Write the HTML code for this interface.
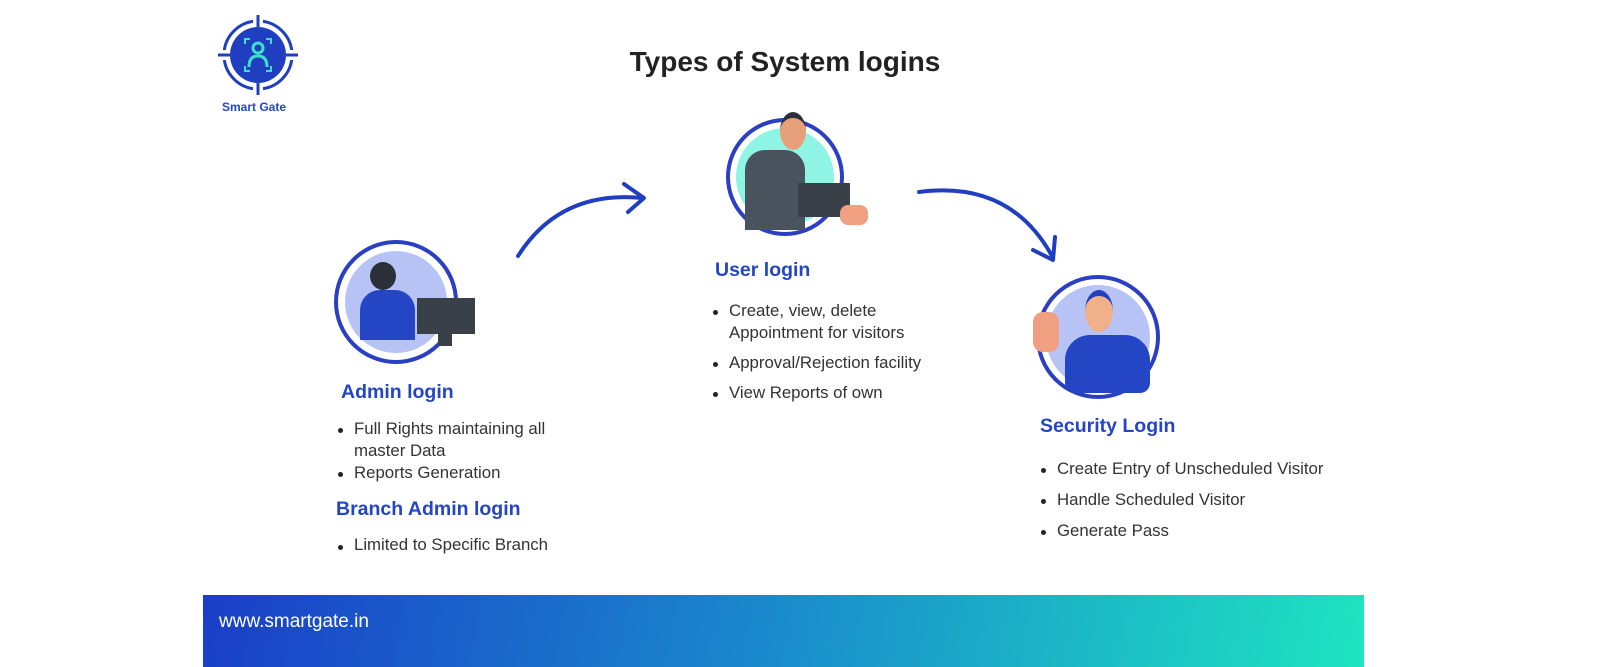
<!DOCTYPE html>
<html><head><meta charset="utf-8"><style>
body{margin:0;width:1600px;height:667px;background:#fff;position:relative;overflow:hidden;font-family:"Liberation Sans",sans-serif}
.a{position:absolute}
h1{position:absolute;margin:0;left:560px;width:450px;text-align:center;top:46px;font-size:28px;font-weight:bold;color:#222}
.h{position:absolute;font-size:19.5px;font-weight:bold;color:#2446c4}
ul{position:absolute;margin:0;padding:0;list-style:none;font-size:16.8px;color:#333}
li{position:relative;padding-left:18px}
li:before{content:"";position:absolute;left:2px;top:10px;width:5px;height:5px;border-radius:50%;background:#222}
.ring{position:absolute;border:4px solid #2a3fc4;border-radius:50%;box-sizing:border-box}
</style></head><body>
<svg class="a" style="left:215px;top:12px" width="86" height="86" viewBox="0 0 86 86">
<circle cx="43" cy="43" r="34" fill="none" stroke="#1f3fc0" stroke-width="3"/>
<rect x="3" y="38" width="80" height="10" fill="#fff"/><rect x="38" y="3" width="10" height="80" fill="#fff"/>
<line x1="43" y1="3" x2="43" y2="15" stroke="#1f3fc0" stroke-width="3"/><line x1="43" y1="71" x2="43" y2="83" stroke="#1f3fc0" stroke-width="3"/>
<line x1="3" y1="43" x2="15" y2="43" stroke="#1f3fc0" stroke-width="3"/><line x1="71" y1="43" x2="83" y2="43" stroke="#1f3fc0" stroke-width="3"/>
<circle cx="43" cy="43" r="28" fill="#1f3fc0"/>
<circle cx="43" cy="36" r="5" fill="none" stroke="#3de0c8" stroke-width="3"/>
<path d="M34 55 Q34 44 43 44 Q52 44 52 55" fill="none" stroke="#3de0c8" stroke-width="3"/>
<path d="M30 32v-5h5M51 27h5v5M30 54v5h5M56 54v5h-5" fill="none" stroke="#3de0c8" stroke-width="2"/>
</svg>
<div class="a" style="left:222px;top:100px;font-size:12px;font-weight:bold;color:#2446c4">Smart Gate</div>
<h1>Types of System logins</h1>

<div class="ring" style="left:334px;top:240px;width:124px;height:124px"></div>
<div class="a" style="left:345px;top:251px;width:102px;height:102px;border-radius:50%;background:#b7c3f5"></div>
<div class="a" style="left:360px;top:290px;width:55px;height:50px;background:#2446c4;border-radius:20px 20px 0 0"></div>
<div class="a" style="left:370px;top:262px;width:26px;height:28px;background:#2a2f3a;border-radius:50%"></div>
<div class="a" style="left:417px;top:298px;width:58px;height:36px;background:#394048"></div>
<div class="a" style="left:438px;top:334px;width:14px;height:12px;background:#394048"></div>

<div class="ring" style="left:726px;top:118px;width:118px;height:118px"></div>
<div class="a" style="left:736px;top:128px;width:98px;height:98px;border-radius:50%;background:#8ef5e5"></div>
<div class="a" style="left:745px;top:150px;width:60px;height:80px;background:#48535d;border-radius:20px 20px 0 0"></div>
<div class="a" style="left:780px;top:112px;width:26px;height:32px;background:#e8a07a;border-radius:50%;border-top:6px solid #2a2f3a"></div>
<div class="a" style="left:798px;top:183px;width:52px;height:34px;background:#394048"></div>
<div class="a" style="left:840px;top:205px;width:28px;height:20px;background:#f0a080;border-radius:8px"></div>

<div class="ring" style="left:1036px;top:275px;width:124px;height:124px"></div>
<div class="a" style="left:1046px;top:285px;width:104px;height:104px;border-radius:50%;background:#b7c3f5"></div>
<div class="a" style="left:1065px;top:335px;width:85px;height:58px;background:#2446c4;border-radius:25px 25px 10px 10px"></div>
<div class="a" style="left:1085px;top:290px;width:28px;height:36px;background:#f0b08a;border-radius:50%;border-top:6px solid #1f3fc0"></div>
<div class="a" style="left:1033px;top:312px;width:26px;height:40px;background:#f0a080;border-radius:10px"></div>

<svg class="a" style="left:0;top:0" width="1600" height="667">
<path d="M518 256 Q560 190 642 198" fill="none" stroke="#1f3fc0" stroke-width="4" stroke-linecap="round"/>
<path d="M624 184 L644 198 L628 212" fill="none" stroke="#1f3fc0" stroke-width="4" stroke-linecap="round" stroke-linejoin="round"/>
<path d="M919 192 Q1010 180 1052 256" fill="none" stroke="#1f3fc0" stroke-width="4" stroke-linecap="round"/>
<path d="M1033 250 L1053 260 L1055 237" fill="none" stroke="#1f3fc0" stroke-width="4" stroke-linecap="round" stroke-linejoin="round"/>
</svg>

<div class="h" style="left:341px;top:381px">Admin login</div>
<ul style="left:336px;top:418px;line-height:22px"><li>Full Rights maintaining all<br>master Data</li><li>Reports Generation</li></ul>
<div class="h" style="left:336px;top:498px">Branch Admin login</div>
<ul style="left:336px;top:535px"><li>Limited to Specific Branch</li></ul>

<div class="h" style="left:715px;top:259px">User login</div>
<ul style="left:711px;top:300px;line-height:22px"><li>Create, view, delete<br>Appointment for visitors</li><li style="margin-top:8px">Approval/Rejection facility</li><li style="margin-top:8px">View Reports of own</li></ul>

<div class="h" style="left:1040px;top:415px">Security Login</div>
<ul style="left:1039px;top:458px;line-height:22px"><li>Create Entry of Unscheduled Visitor</li><li style="margin-top:9px">Handle Scheduled Visitor</li><li style="margin-top:9px">Generate Pass</li></ul>

<div class="a" style="left:203px;top:595px;width:1161px;height:72px;background:linear-gradient(100deg,#1a3ec8 0%,#1a8ccc 50%,#1ee4c0 100%)"></div>
<div class="a" style="left:219px;top:611px;font-size:19px;color:#fff">www.smartgate.in</div>
</body></html>
